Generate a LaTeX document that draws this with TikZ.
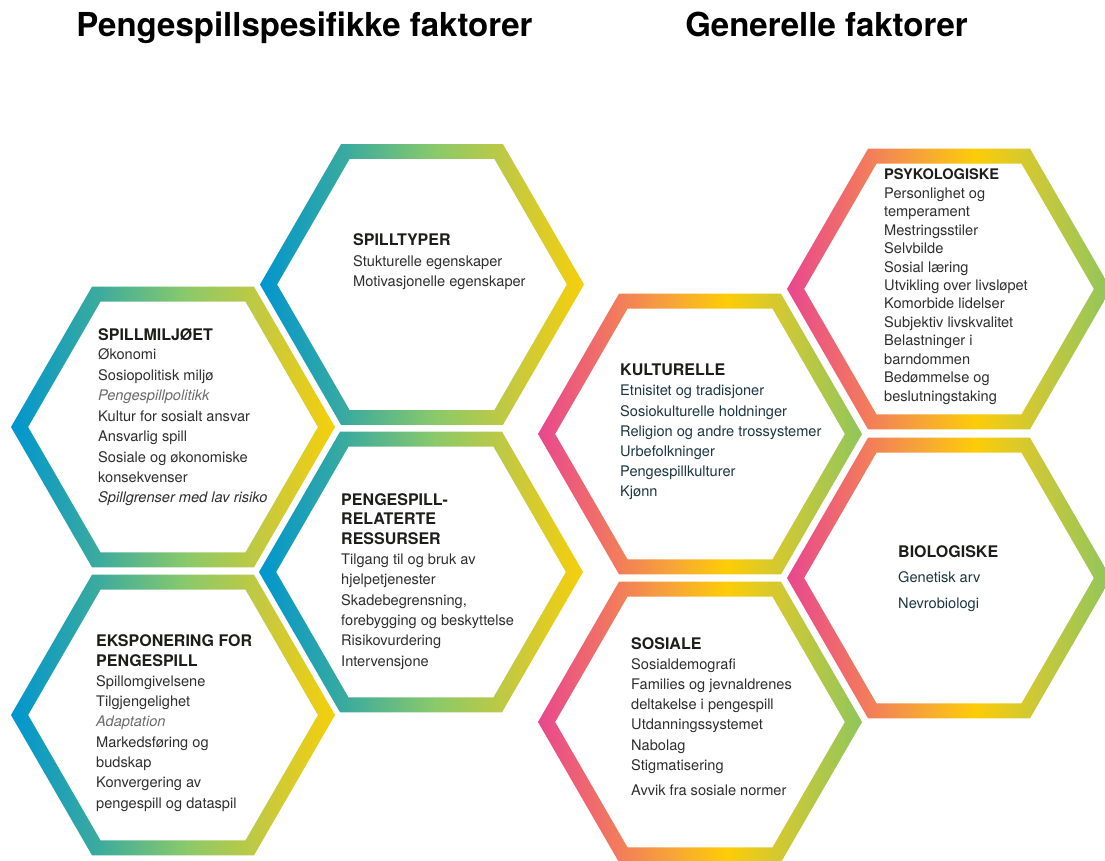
\documentclass[tikz,border=0pt]{standalone}
\usepackage{fontspec}
\setmainfont{TeX Gyre Heros}
\definecolor{lg0}{HTML}{0096CF}
\definecolor{lg1}{HTML}{36A9A1}
\definecolor{lg2}{HTML}{8AC96A}
\definecolor{lg3}{HTML}{C6C93E}
\definecolor{lg4}{HTML}{F7CF0A}
\definecolor{rg0}{HTML}{E8478F}
\definecolor{rg1}{HTML}{F27A5D}
\definecolor{rg2}{HTML}{F6A23A}
\definecolor{rg3}{HTML}{FDCC07}
\definecolor{rg4}{HTML}{C9C83A}
\definecolor{rg5}{HTML}{8FC65C}
\definecolor{headblack}{HTML}{1D1D1B}
\definecolor{bodygray}{HTML}{2E2E2E}
\definecolor{itgray}{HTML}{6B6B6B}
\definecolor{navy}{HTML}{1B3644}
\pgfdeclarehorizontalshading{lgrad}{100bp}{color(0bp)=(lg0); color(25bp)=(lg0); color(37.5bp)=(lg1); color(52bp)=(lg2); color(64bp)=(lg3); color(75bp)=(lg4); color(100bp)=(lg4)}
\pgfdeclarehorizontalshading{rgrad}{100bp}{color(0bp)=(rg0); color(25bp)=(rg0); color(37bp)=(rg1); color(45bp)=(rg2); color(54bp)=(rg3); color(64bp)=(rg4); color(75bp)=(rg5); color(100bp)=(rg5)}
\newcommand\myhexring[3]{%
  \begin{scope}[shift={(#1,#2)}]
    \shade[shading=#3] (0:162) -- (60:162) -- (120:162) -- (180:162) -- (240:162) -- (300:162) -- cycle;
    \fill[white] (0:144.7) -- (60:144.7) -- (120:144.7) -- (180:144.7) -- (240:144.7) -- (300:144.7) -- cycle;
  \end{scope}}
\tikzset{
  body/.style={anchor=base west, inner sep=0pt, font=\fontsize{14.6}{17}\selectfont, text=bodygray},
  navybody/.style={body, text=navy},
  head/.style={anchor=base west, inner sep=0pt, font=\bfseries\fontsize{16}{19}\selectfont, text=headblack},
  smallhead/.style={head, font=\bfseries\fontsize{14.6}{17}\selectfont},
  title/.style={anchor=base, inner sep=0pt, font=\bfseries\fontsize{33}{38}\selectfont, text=black}
}
\begin{document}
\begin{tikzpicture}[x=1pt,y=-1pt]
\useasboundingbox (0,0) rectangle (1105,861);
\fill[white] (0,0) rectangle (1105,861);
\clip (0,0) rectangle (1105,861);

% titles
\node[title] (t1) at (304.5,37) {Pengespillspesifikke faktorer};
\node[title] (t2) at (826.5,37) {Generelle faktorer};

% hexagon rings
\myhexring{173}{427}{lgrad}
\myhexring{173}{715}{lgrad}
\myhexring{422}{284.5}{lgrad}
\myhexring{421}{572}{lgrad}
\myhexring{700}{434}{rgrad}
\myhexring{700}{722}{rgrad}
\myhexring{949}{289}{rgrad}
\myhexring{949}{578}{rgrad}

% hex 1
\node[head] (h1) at (98,340) {SPILLMILJØET};
\foreach \yy/\txt [count=\i] in {359.5/Økonomi, 380/Sosiopolitisk miljø, 400.5/{\itshape\color{itgray}Pengespillpolitikk}, 421/Kultur for sosialt ansvar, 441.5/Ansvarlig spill, 462/Sosiale og økonomiske, 482/konsekvenser, 502.5/{\itshape Spillgrenser med lav risiko}}
  \node[body] (a\i) at (98,\yy) {\txt};

% hex 2
\node[head] (h2a) at (96,646.5) {EKSPONERING FOR};
\node[head] (h2b) at (96,666) {PENGESPILL};
\foreach \yy/\txt [count=\i] in {686/Spillomgivelsene, 706.3/Tilgjengelighet, 726.6/{\itshape\color{itgray}Adaptation}, 747/Markedsføring og, 767/budskap, 787.5/Konvergering av, 808/pengespill og dataspil}
  \node[body] (b\i) at (96,\yy) {\txt};

% hex 3
\node[head] (h3) at (353,245) {SPILLTYPER};
\node[body] (c1) at (353,266) {Stukturelle egenskaper};
\node[body] (c2) at (353,286) {Motivasjonelle egenskaper};

% hex 4
\node[head] (h4a) at (341,505) {PENGESPILL-};
\node[head] (h4b) at (341,524.5) {RELATERTE};
\node[head] (h4c) at (341,544) {RESSURSER};
\foreach \yy/\txt [count=\i] in {564/Tilgang til og bruk av, 584/hjelpetjenester, 605/{Skadebegrensning,}, 625/forebygging og beskyttelse, 645.5/Risikovurdering, 666/Intervensjone}
  \node[body] (d\i) at (341,\yy) {\txt};

% hex 5
\node[head] (h5) at (620,375.7) {KULTURELLE};
\foreach \yy/\txt [count=\i] in {395.5/Etnisitet og tradisjoner, 416/Sosiokulturelle holdninger, 436/Religion og andre trossystemer, 456.5/Urbefolkninger, 476.5/Pengespillkulturer, 496.7/Kjønn}
  \node[navybody] (e\i) at (620,\yy) {\txt};

% hex 6
\node[head] (h6) at (631,649) {SOSIALE};
\foreach \yy/\txt [count=\i] in {669/Sosialdemografi, 689/Families og jevnaldrenes, 709/deltakelse i pengespill, 729/Utdanningssystemet, 750/Nabolag, 770/Stigmatisering, 795.7/Avvik fra sosiale normer}
  \node[body] (f\i) at (631,\yy) {\txt};

% hex 7
\node[smallhead] (h7) at (884,180) {PSYKOLOGISKE};
\foreach \yy/\txt [count=\i] in {198.3/Personlighet og, 216.7/temperament, 235.2/Mestringsstiler, 253.6/Selvbilde, 272/Sosial læring, 290.5/Utvikling over livsløpet, 308.9/Komorbide lidelser, 327.3/Subjektiv livskvalitet, 345.7/Belastninger i, 364.2/barndommen, 382.6/Bedømmelse og, 401/beslutningstaking}
  \node[body] (g\i) at (884,\yy) {\txt};

% hex 8
\node[head] (h8) at (898,557.3) {BIOLOGISKE};
\node[navybody] (k1) at (898,582.7) {Genetisk arv};
\node[navybody] (k2) at (898,608.3) {Nevrobiologi};
\end{tikzpicture}
\end{document}
